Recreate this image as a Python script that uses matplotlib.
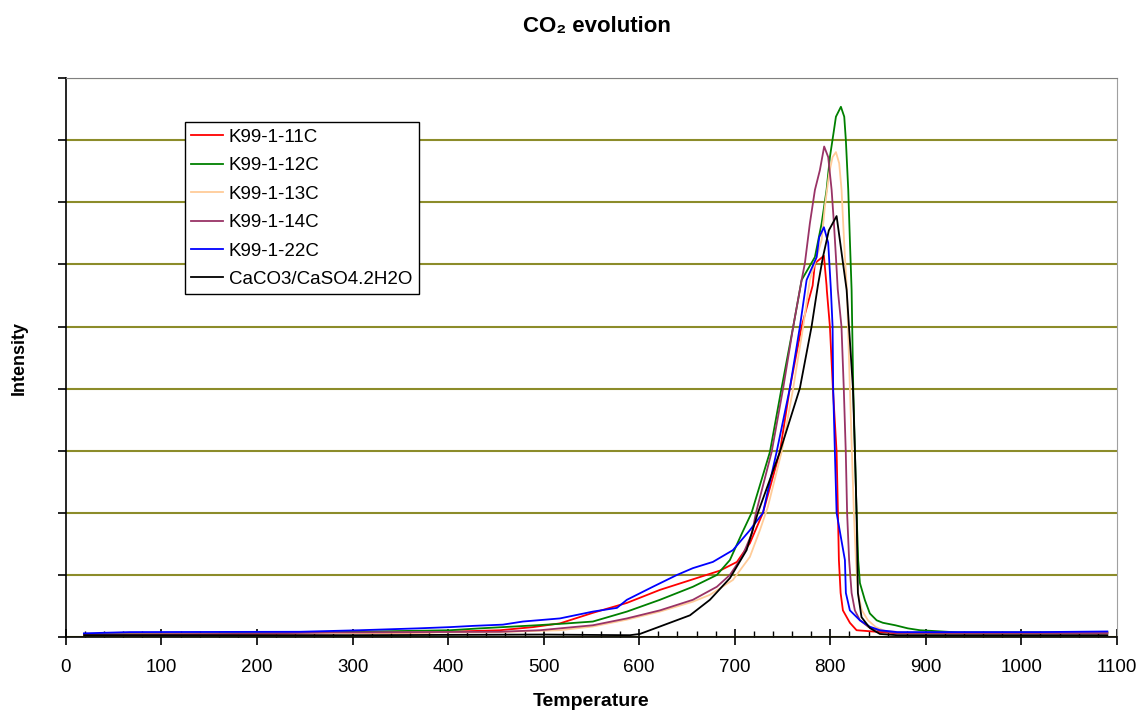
# CO2 evolution curves
import matplotlib.pyplot as plt

plt.rcParams['font.family'] = ['Liberation Sans', 'DejaVu Sans']

# K99-1-11C
t_11c = [19, 200, 377.8, 454.2, 488.7, 517.0, 551.5, 587.1, 621.7, 656.2, 684.5, 702.3, 715.8,
         729.5, 747.2, 757.7, 770.0, 781.5, 783.9, 793.3, 796.1, 796.4, 799.6, 802.7, 806.6,
         808.0, 809.0, 810.8, 813.2, 820.5, 827.5, 848.5, 870, 1090]
i_11c = [0.05, 0.05, 0.075, 0.11, 0.16, 0.22, 0.39, 0.55, 0.76, 0.93, 1.07, 1.21, 1.51,
         2.0, 2.98, 4.01, 5.0, 5.66, 6.02, 6.14, 5.66, 5.58, 5.0, 4.01, 2.98,
         2.0, 1.24, 0.71, 0.43, 0.23, 0.11, 0.085, 0.06, 0.06]

# K99-1-12C
t_12c = [19, 35.6, 262.7, 401.9, 433.3, 492.9, 524.3, 551.5, 587.1, 621.7, 656.2, 681.3, 694.9,
         707.5, 717.6, 736.8, 749.0, 761.2, 770.0, 783.9, 790.9, 796.1, 799.6, 803.8, 805.9,
         811.1, 814.6, 816.3, 818.8, 820.5, 822.3, 824.0, 825.8, 827.5, 829.2, 831.0, 836.2,
         841.4, 848.5, 855, 868, 881.2, 893.8, 933.5, 1090]
i_12c = [0.05, 0.05, 0.075, 0.11, 0.14, 0.19, 0.22, 0.25, 0.41, 0.60, 0.81, 1.0, 1.24,
         1.67, 2.0, 2.98, 4.01, 5.0, 5.75, 6.12, 6.66, 7.2, 7.73, 8.16, 8.38,
         8.54, 8.38, 8.0, 7.2, 6.39, 5.59, 4.01, 2.98, 2.0, 1.24, 0.87, 0.595,
         0.38, 0.27, 0.23, 0.19, 0.14, 0.11, 0.075, 0.075]

# K99-1-13C
t_13c = [19, 244.9, 454.2, 517.0, 551.5, 587.1, 621.7, 656.2, 674.0, 698.1, 715.8, 726.3, 734.7,
         749.0, 761.2, 771.6, 778.6, 790.9, 794.3, 798.8, 802.4, 805.9, 809.3, 811.8, 813.5,
         815.3, 817.4, 820.5, 822.6, 824.7, 826.8, 828.9, 833.1, 839.4, 847.7, 857.1, 880, 1090]
i_13c = [0.04, 0.06, 0.08, 0.11, 0.17, 0.28, 0.41, 0.57, 0.68, 0.92, 1.29, 1.72, 2.1,
         2.98, 4.01, 5.0, 5.75, 6.39, 6.93, 7.47, 7.73, 7.81, 7.63, 7.2, 6.66,
         6.12, 5.59, 4.01, 2.98, 2.0, 1.24, 0.71, 0.43, 0.27, 0.16, 0.10, 0.07, 0.07]

# K99-1-14C
t_14c = [19, 171.6, 279.4, 454.2, 496.1, 517.0, 551.5, 587.1, 621.7, 656.2, 681.3, 694.9, 707.5,
         718.0, 722.2, 738.6, 750.7, 761.2, 770.0, 773.4, 778.6, 783.9, 789.1, 793.6, 797.8,
         801.4, 803.8, 805.9, 807.8, 811.7, 814.1, 816.2, 817.6, 819.7, 822.3, 825.7, 831.0,
         839.7, 851.9, 870, 1090]
i_14c = [0.04, 0.05, 0.075, 0.085, 0.11, 0.14, 0.19, 0.30, 0.43, 0.60, 0.81, 1.0, 1.29,
         1.67, 2.0, 2.98, 4.01, 5.0, 5.75, 6.02, 6.66, 7.2, 7.52, 7.9, 7.73,
         7.2, 6.66, 6.12, 5.6, 5.0, 4.01, 2.98, 2.0, 1.24, 0.71, 0.43, 0.27,
         0.166, 0.10, 0.065, 0.065]

# K99-1-22C
t_22c = [18.8, 67.0, 244.9, 307.7, 368.4, 401.9, 426.0, 457.3, 478.3, 517.0, 551.5, 576.7, 587.1,
         614.3, 639.5, 656.2, 677.1, 698.1, 715.8, 729.5, 743.8, 757.7, 768.2, 775.2, 785.7,
         788.4, 793.3, 797.8, 800.6, 802.4, 803.0, 804.8, 806.6, 815.3, 816.3, 820.5, 831.0,
         841.4, 851.9, 870, 1020, 1090]
i_22c = [0.06, 0.08, 0.085, 0.11, 0.14, 0.16, 0.18, 0.20, 0.25, 0.30, 0.41, 0.47, 0.60,
         0.81, 1.0, 1.11, 1.21, 1.40, 1.72, 2.0, 2.98, 4.01, 5.0, 5.75, 6.12,
         6.44, 6.6, 6.35, 5.6, 5.0, 4.01, 2.98, 2.0, 1.24, 0.71, 0.43, 0.27,
         0.166, 0.11, 0.08, 0.08, 0.09]

# CaCO3/CaSO4.2H2O
t_ref = [19, 300, 500, 590.3, 600.7, 621.7, 653.1, 674.0, 695.0, 712.4, 724.2, 747.2, 768.2,
         780.4, 787.0, 792.3, 798.5, 806.6, 817.1, 823.7, 825.8, 827.5, 828.9, 832.7, 841.4,
         851.9, 870, 1090]
i_ref = [0.03, 0.03, 0.04, 0.03, 0.05, 0.17, 0.35, 0.60, 0.95, 1.40, 2.0, 2.98, 4.01,
         5.0, 5.66, 6.12, 6.55, 6.78, 5.59, 4.01, 2.98, 2.0, 0.71, 0.32, 0.145,
         0.05, 0.03, 0.03]

series = [
    ("K99-1-11C", t_11c, i_11c, "#FF0000"),
    ("K99-1-12C", t_12c, i_12c, "#008000"),
    ("K99-1-13C", t_13c, i_13c, "#FFCC99"),
    ("K99-1-14C", t_14c, i_14c, "#993366"),
    ("K99-1-22C", t_22c, i_22c, "#0000FF"),
    ("CaCO3/CaSO4.2H2O", t_ref, i_ref, "#000000"),
]

fig = plt.figure(figsize=(11.41, 7.11), dpi=100)
ax = fig.add_axes([0.0578, 0.104, 0.9211, 0.786])

for name, t, inten, col in series:
    ax.plot(t, inten, color=col, linewidth=1.3, label=name)

ax.set_xlim(0, 1100)
ax.set_ylim(0, 9)
ax.set_xticks(range(0, 1101, 100))
ax.set_xticks(range(0, 1101, 20), minor=True)
ax.set_yticks(range(0, 10))
ax.set_yticklabels([])
ax.tick_params(axis='x', which='major', direction='inout', length=12, width=1.2,
               labelsize=13.5, pad=10)
ax.tick_params(axis='x', which='minor', direction='in', length=4, width=1)
ax.tick_params(axis='y', which='major', direction='out', length=6, width=1.2)

# olive horizontal gridlines
ax.yaxis.grid(True, color='#8C8C2A', linewidth=1.5)
ax.set_axisbelow(True)

ax.spines['left'].set_linewidth(1.2)
ax.spines['bottom'].set_linewidth(1.2)
ax.spines['top'].set_color('#808080')
ax.spines['right'].set_color('#A0A0A0')

ax.set_xlabel("Temperature", fontsize=14, fontweight='bold', labelpad=12)
ax.set_ylabel("Intensity", fontsize=13, fontweight='bold', labelpad=18)
fig.suptitle("CO\u2082 evolution", fontsize=16, fontweight='bold', x=0.523, y=0.978)

leg = ax.legend(loc='upper left', bbox_to_anchor=(0.113, 0.921), borderaxespad=0,
                fontsize=13.5, handlelength=1.7, handletextpad=0.3, labelspacing=0.6,
                fancybox=False, framealpha=1, edgecolor='black', borderpad=0.35)
leg.get_frame().set_linewidth(1.0)

fig.savefig("out.png", dpi=100)
